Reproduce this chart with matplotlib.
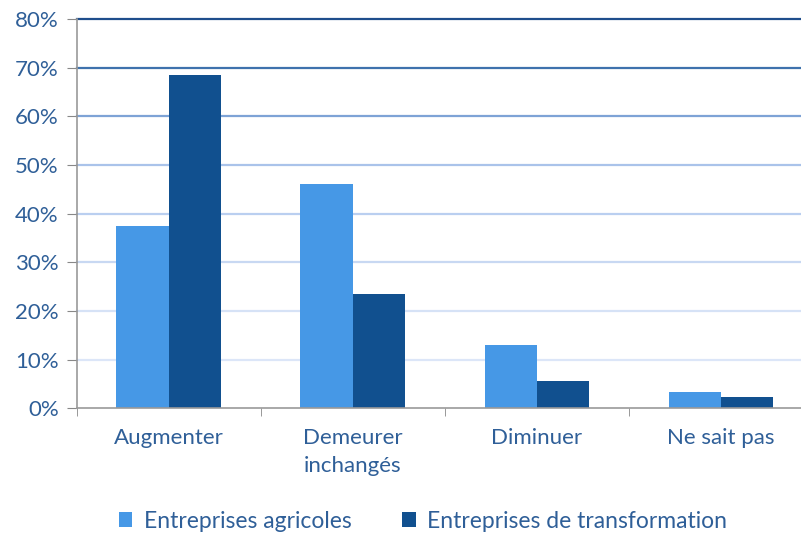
import numpy as np
import matplotlib.pyplot as plt

categories = ["Augmenter", "Demeurer\ninchangés", "Diminuer", "Ne sait pas"]
agricoles = [37.5, 46.0, 13.0, 3.4]
transformation = [68.5, 23.5, 5.6, 2.4]
yticks = [0, 10, 20, 30, 40, 50, 60, 70, 80]
grid_colors = ["#dce6f8", "#dce6f8", "#d6e2f6", "#c8d8f2", "#bacff0",
               "#aac3ea", "#7ea3d6", "#3f72ad", "#1f4e8c"]

c_agri = "#4698e6"
c_trans = "#11508f"
txt = "#2f5f98"

plt.rcParams['font.family'] = ['Lato', 'DejaVu Sans']

fig = plt.figure(figsize=(8.01, 5.35), dpi=100)
ax = fig.add_axes([0.096, 0.237, 0.919, 0.7275])

x = np.arange(len(categories))
w = 0.285
for yv, gc in zip(yticks[1:], grid_colors[1:]):
    ax.axhline(yv, color=gc, lw=1.6, zorder=0, clip_on=False)
ax.bar(x - w / 2, agricoles, w, color=c_agri, zorder=2, label="Entreprises agricoles")
ax.bar(x + w / 2, transformation, w, color=c_trans, zorder=2, label="Entreprises de transformation")

ax.set_xlim(-0.5, len(categories) - 0.5)
ax.set_ylim(0, 80)
ax.set_yticks(yticks)
ax.set_yticklabels([f"{v}%" for v in yticks], color=txt, fontsize=16)
ax.set_xticks(x)
ax.set_xticklabels(categories, color=txt, fontsize=16, linespacing=1.5)
ax.tick_params(axis='x', length=0, pad=14)
ax.set_xticks(np.arange(len(categories) + 1) - 0.5, minor=True)
ax.tick_params(axis='x', which='minor', length=6, color="#888888")
ax.tick_params(axis='y', length=7, color="#888888", pad=6)

for s in ["top", "right"]:
    ax.spines[s].set_visible(False)
for s in ["left", "bottom"]:
    ax.spines[s].set_color("#999999")
    ax.spines[s].set_linewidth(1.2)

leg = fig.legend(loc="center", bbox_to_anchor=(0.528, 0.026), ncol=2, frameon=False,
                 fontsize=16.5, handlelength=0.6, handleheight=0.6, columnspacing=2.2,
                 handletextpad=0.5)
for t in leg.get_texts():
    t.set_color(txt)

fig.savefig("out.png", dpi=100)
